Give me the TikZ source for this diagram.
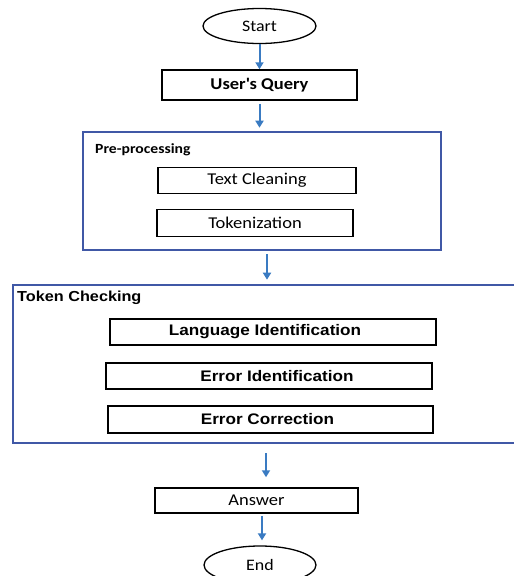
\documentclass[tikz,border=0pt]{standalone}
\usepackage{fontspec}
\setmainfont{Carlito}[FakeStretch=1.12]
\newfontfamily\arialfont{Liberation Sans}[FakeStretch=1.12]
\usetikzlibrary{shapes.geometric,arrows.meta,calc}
\definecolor{framecol}{HTML}{4058A6}
\definecolor{arrowcol}{HTML}{3A7BC2}
\tikzset{
  x=1pt, y=-1pt,
  stepbox/.style={draw=black, line width=1.5pt, rectangle, inner sep=0pt, font=\fontsize{16.5}{18}\selectfont},
  boldbox/.style={stepbox, font=\arialfont\bfseries\fontsize{15.3}{17}\selectfont},
  terminal/.style={draw=black, line width=1.3pt, ellipse, inner sep=0pt, font=\fontsize{16}{18}\selectfont},
  group/.style={draw=framecol, line width=2.6pt, rectangle, inner sep=0pt},
  grouplabel/.style={anchor=west, inner sep=0pt},
  arr/.style={draw=arrowcol, line width=2pt, -{Triangle[length=7pt,width=8pt]}},
}
\begin{document}
\begin{tikzpicture}
\useasboundingbox (0,0) rectangle (514,576);
\clip (0,0) rectangle (514,576);
\fill[white] (0,0) rectangle (514,576);

% start / end terminals
\node[terminal, minimum width=113, minimum height=35] (start) at (259.5,26) {Start};
\node[stepbox, font=\bfseries\fontsize{16.5}{18}\selectfont, minimum width=195, minimum height=30] (query) at (259.5,85) {User\textquotesingle s Query};

% pre-processing group
\node[group, minimum width=358, minimum height=118] (pre) at (262,191) {};
\node[grouplabel, font=\bfseries\fontsize{14}{16}\selectfont] (prelabel) at (95,150) {Pre-processing};
\node[stepbox, minimum width=198, minimum height=26] (clean) at (257,180.5) {Text Cleaning};
\node[stepbox, minimum width=196, minimum height=27] (tok) at (255,223) {Tokenization};

% token checking group (runs past the right edge)
\node[group, minimum width=517, minimum height=158] (tc) at (271.5,364) {};
\node[grouplabel, font=\arialfont\bfseries\fontsize{14.5}{16}\selectfont] (tclabel) at (17,298) {Token Checking};
\node[boldbox, minimum width=326, minimum height=26] (lang) at (273,332) {Language Identification\hspace*{16pt}};
\node[boldbox, minimum width=326, minimum height=26] (errid) at (269,376) {\hspace*{16pt}Error Identification};
\node[boldbox, minimum width=325, minimum height=27] (errcor) at (270.5,419.5) {Error Correction\hspace*{6pt}};

% output
\node[stepbox, minimum width=203, minimum height=25] (answer) at (256.5,500.5) {Answer};
\node[terminal, minimum width=112, minimum height=38] (end) at (260,565) {End};

% flow arrows
\draw[arr] (start.south) -- (query.north);
\draw[arr, shorten <=3pt, shorten >=3pt] (query.south) -- (query.south |- pre.north);
\draw[arr, shorten <=3pt, shorten >=4pt] ($(pre.south)+(5,0)$) coordinate (a1) -- (a1 |- tc.north);
\draw[arr, shorten <=9pt, shorten >=10pt] ($(tc.south)+(-5.5,0)$) coordinate (a2) -- (a2 |- answer.north);
\draw[arr, shorten <=2pt, shorten >=5pt] ($(answer.south)+(5.5,0)$) coordinate (a3) -- (a3 |- end.north);
\end{tikzpicture}
\end{document}
